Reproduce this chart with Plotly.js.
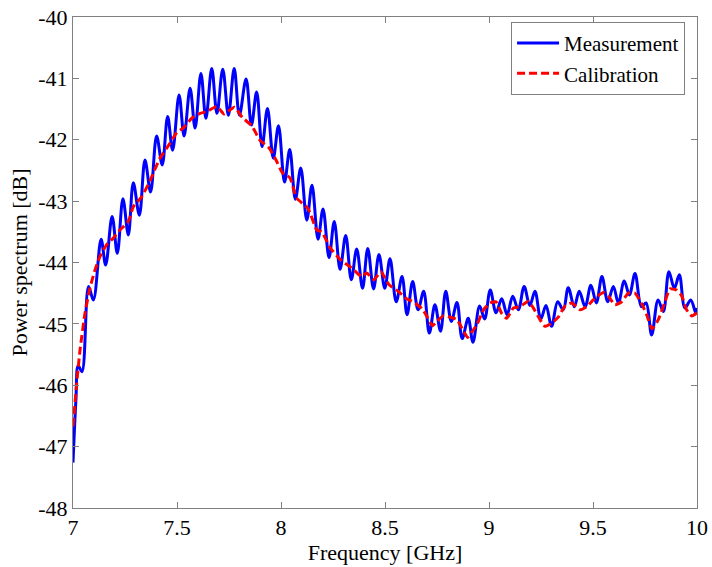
<!DOCTYPE html>
<html>
<head>
<meta charset="utf-8">
<script src="https://cdn.plot.ly/plotly-3.0.1.min.js"></script>
<style>html,body{margin:0;padding:0;background:#fff;}#chart{width:712px;height:567px;}</style>
</head>
<body>
<div id="chart"></div>
<script>
const measFreq = [7.000,7.014,7.025,7.043,7.075,7.098,7.135,7.157,7.188,7.213,7.240,7.266,7.290,7.319,7.346,7.373,7.402,7.429,7.455,7.479,
  7.510,7.534,7.563,7.587,7.615,7.639,7.667,7.692,7.720,7.747,7.775,7.800,7.832,7.858,7.883,7.909,7.935,7.963,7.988,8.017,
  8.042,8.069,8.095,8.124,8.149,8.178,8.202,8.231,8.256,8.284,8.311,8.338,8.364,8.392,8.417,8.445,8.471,8.499,8.524,8.554,
  8.582,8.606,8.633,8.659,8.686,8.713,8.740,8.767,8.792,8.819,8.846,8.871,8.900,8.923,8.955,8.979,9.006,9.034,9.061,9.087,
  9.114,9.141,9.169,9.196,9.221,9.249,9.274,9.301,9.330,9.357,9.381,9.410,9.434,9.462,9.490,9.516,9.543,9.571,9.598,9.622,
  9.650,9.675,9.702,9.733,9.755,9.782,9.813,9.838,9.865,9.891,9.915,9.942,9.970,9.994,10.000];
const measDB = [-47.26,-46.24,-45.68,-45.78,-44.39,-44.61,-43.62,-44.04,-43.25,-43.85,-42.96,-43.55,-42.70,-43.23,-42.33,-42.85,-41.94,-42.41,-41.62,-42.17,
  -41.27,-41.94,-41.16,-41.81,-40.92,-41.65,-40.84,-41.57,-40.85,-41.60,-40.84,-41.60,-41.01,-41.76,-41.22,-42.11,-41.49,-42.30,-41.77,-42.69,
  -42.16,-42.97,-42.46,-43.31,-42.74,-43.62,-43.13,-43.92,-43.33,-44.11,-43.56,-44.28,-43.78,-44.42,-43.77,-44.43,-43.87,-44.42,-43.94,-44.64,
  -44.23,-44.85,-44.31,-44.77,-44.47,-45.15,-44.69,-45.12,-44.47,-44.96,-44.65,-45.24,-44.91,-45.30,-44.71,-44.92,-44.45,-44.82,-44.59,-44.85,
  -44.55,-44.77,-44.39,-44.70,-44.47,-44.92,-44.70,-45.04,-44.64,-44.77,-44.41,-44.72,-44.47,-44.72,-44.37,-44.66,-44.23,-44.64,-44.39,-44.66,
  -44.30,-44.53,-44.18,-44.72,-44.66,-45.18,-44.61,-44.80,-44.15,-44.42,-44.20,-44.74,-44.61,-44.82,-44.74];

// Calibration curve (GHz, dB)
const calFreq = [7.000,7.018,7.034,7.058,7.082,7.106,7.130,7.162,7.194,7.226,7.266,7.290,7.330,7.370,7.418,7.466,7.499,7.530,7.571,7.611,
  7.643,7.692,7.726,7.776,7.815,7.859,7.899,7.942,7.976,8.007,8.043,8.075,8.130,8.172,8.196,8.236,8.288,8.340,8.388,8.412,
  8.447,8.480,8.519,8.564,8.604,8.636,8.680,8.702,8.728,8.750,8.780,8.822,8.846,8.870,8.897,8.918,8.942,8.976,9.005,9.034,
  9.061,9.085,9.117,9.149,9.189,9.213,9.245,9.269,9.301,9.333,9.365,9.398,9.438,9.470,9.501,9.550,9.574,9.606,9.638,9.670,
  9.702,9.734,9.758,9.784,9.814,9.846,9.870,9.902,9.926,9.950,9.975,10.000];
const calDB = [-46.67,-45.96,-45.42,-44.82,-44.41,-44.12,-43.90,-43.71,-43.60,-43.47,-43.33,-43.09,-42.93,-42.67,-42.30,-42.06,-41.88,-41.81,-41.65,-41.57,
  -41.54,-41.46,-41.58,-41.47,-41.64,-41.77,-42.01,-42.13,-42.33,-42.54,-42.62,-42.95,-43.12,-43.47,-43.50,-43.76,-43.96,-44.09,-44.23,-44.17,
  -44.28,-44.15,-44.36,-44.47,-44.59,-44.64,-44.76,-44.88,-45.03,-44.96,-44.87,-44.90,-44.93,-45.07,-45.22,-45.13,-45.01,-44.76,-44.66,-44.64,
  -44.83,-44.91,-44.74,-44.72,-44.63,-44.74,-44.93,-45.04,-44.99,-44.89,-44.71,-44.66,-44.77,-44.72,-44.61,-44.49,-44.55,-44.69,-44.64,-44.50,
  -44.50,-44.67,-44.85,-45.08,-44.93,-44.64,-44.43,-44.45,-44.54,-44.77,-44.87,-44.82];

const xTicks = [7, 7.5, 8, 8.5, 9, 9.5, 10];
const xTickText = ['7', '7.5', '8', '8.5', '9', '9.5', '10'];
const yTicks = [-48, -47, -46, -45, -44, -43, -42, -41, -40];
const yTickText = ['-48', '-47', '-46', '-45', '-44', '-43', '-42', '-41', '-40'];

const FONT = 'Liberation Serif, Times New Roman, serif';

const traces = [
  {x: measFreq, y: measDB, type: 'scatter', mode: 'lines', name: 'Measurement',
   line: {color: '#0000ff', width: 3, shape: 'spline', smoothing: 1}},
  {x: calFreq, y: calDB, type: 'scatter', mode: 'lines', name: 'Calibration',
   line: {color: '#ff0000', width: 3, dash: '8px,4px', shape: 'spline', smoothing: 0.5}}
];

const axisCommon = {
  showgrid: false, zeroline: false, showline: true, mirror: 'ticks',
  linecolor: '#808080', linewidth: 1, ticks: 'inside', ticklen: 6, tickwidth: 1,
  tickcolor: '#808080', tickfont: {family: FONT, size: 22, color: '#000'}
};

const layout = {
  width: 712, height: 567,
  margin: {l: 73, r: 15, t: 17, b: 59},
  paper_bgcolor: '#fff', plot_bgcolor: '#fff',
  font: {family: FONT, color: '#000'},
  showlegend: true,
  legend: {x: 0.702, y: 0.99, xanchor: 'left', yanchor: 'top',
    bgcolor: '#fff', bordercolor: '#808080', borderwidth: 1, itemwidth: 42,
    font: {family: FONT, size: 21, color: '#000'}, tracegroupgap: 0},
  xaxis: Object.assign({}, axisCommon, {
    range: [7, 10], tickvals: xTicks, ticktext: xTickText,
    title: {text: 'Frequency [GHz]', font: {family: FONT, size: 22, color: '#000'}, standoff: 2}
  }),
  yaxis: Object.assign({}, axisCommon, {
    range: [-48, -40], tickvals: yTicks, ticktext: yTickText,
    title: {text: 'Power spectrum [dB]', font: {family: FONT, size: 22, color: '#000'}, standoff: 4}
  })
};

Plotly.newPlot('chart', traces, layout, {displayModeBar: false, staticPlot: true});
</script>
</body>
</html>
